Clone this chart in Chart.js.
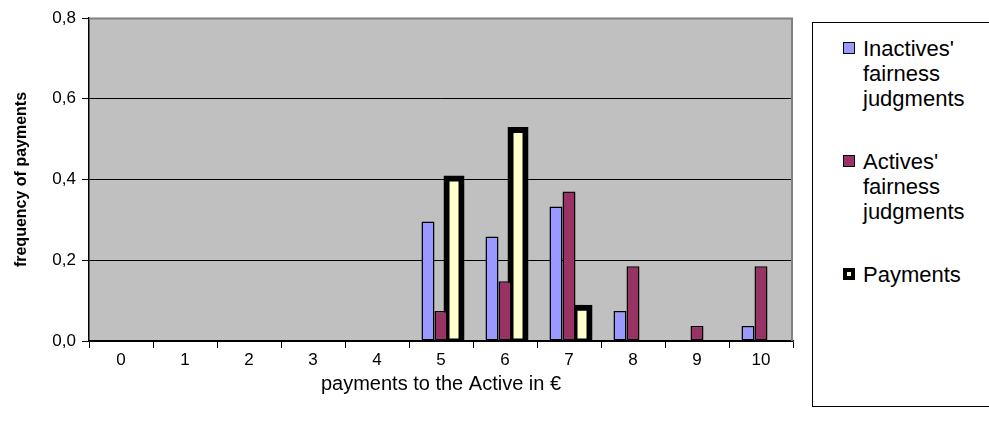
<!DOCTYPE html>
<html>
<head>
<meta charset="utf-8">
<script src="https://cdn.jsdelivr.net/npm/chart.js@4/dist/chart.umd.min.js"></script>
<style>
  html, body { margin: 0; padding: 0; background: #fff; }
  #wrap { position: relative; width: 989px; height: 421px; overflow: hidden; }
  #legend {
    position: absolute; left: 812px; top: 22px; width: 200px; height: 385px;
    border: 1px solid #000; box-sizing: border-box; background: #fff;
    font-family: 'Liberation Sans', Arial, sans-serif; font-size: 22px; color: #000;
  }
  .item { position: absolute; left: 30px; line-height: 25px; }
  .sw { position: absolute; left: 0; top: 6px; width: 12px; height: 12px; box-sizing: border-box; }
  .txt { position: absolute; left: 20px; white-space: nowrap; }
</style>
</head>
<body>
<div id="wrap">
  <canvas id="c" width="989" height="421"></canvas>
  <div id="legend"></div>
</div>
<script>
// payment amounts (euros) shown on the x axis
const categories = ['0', '1', '2', '3', '4', '5', '6', '7', '8', '9', '10'];

// relative frequencies per amount
const inactivesJudgments = [0, 0, 0, 0, 0, 0.296, 0.259, 0.333, 0.074, 0, 0.037];
const activesJudgments   = [0, 0, 0, 0, 0, 0.074, 0.148, 0.370, 0.185, 0.037, 0.185];
const payments           = [0, 0, 0, 0, 0, 0.40, 0.52, 0.08, 0, 0, 0];

// series names, split into the lines used in the legend box
const seriesNames = [
  ["Inactives'", 'fairness', 'judgments'],
  ["Actives'", 'fairness', 'judgments'],
  ['Payments']
];

const yTicks = [0, 0.2, 0.4, 0.6, 0.8];

const FONT = "'Liberation Sans', Arial, sans-serif";

// grey plot background and the grey top/right frame
const plotFrame = {
  id: 'plotFrame',
  beforeDraw(chart) {
    const { ctx, chartArea: a } = chart;
    ctx.save();
    ctx.fillStyle = '#C0C0C0';
    ctx.fillRect(a.left, a.top, a.right - a.left, a.bottom - a.top);
    ctx.restore();
  },
  beforeDatasetsDraw(chart) {
    const { ctx, chartArea: a } = chart;
    ctx.save();
    ctx.strokeStyle = '#808080';
    ctx.lineWidth = 2;
    ctx.beginPath();
    ctx.moveTo(a.left, a.top + 0.5);
    ctx.lineTo(a.right - 1, a.top + 0.5);
    ctx.lineTo(a.right - 1, a.bottom);
    ctx.stroke();
    ctx.restore();
  }
};

// zero-height bars get no outline
const ifValue = (w) => (ctx) => (ctx.raw ? w : 0);

const chart = new Chart(document.getElementById('c'), {
  type: 'bar',
  data: {
    labels: categories,
    datasets: [
      {
        label: seriesNames[0].join(' '),
        data: inactivesJudgments,
        backgroundColor: '#9999FF',
        borderColor: '#000',
        borderWidth: ifValue(1.5),
        borderSkipped: false,
        inflateAmount: 0
      },
      {
        label: seriesNames[1].join(' '),
        data: activesJudgments,
        backgroundColor: '#993366',
        borderColor: '#000',
        borderWidth: ifValue(1.5),
        borderSkipped: false,
        inflateAmount: 0
      },
      {
        label: seriesNames[2].join(' '),
        data: payments,
        backgroundColor: '#FFFFCC',
        borderColor: '#000',
        borderWidth: ifValue(6),
        borderSkipped: false,
        inflateAmount: ifValue(4),
        clip: { left: 10, top: 10, right: 10, bottom: 0 }
      }
    ]
  },
  options: {
    responsive: false,
    animation: false,
    devicePixelRatio: 1,
    layout: { padding: { left: 0, top: 18, right: 196, bottom: 0 } },
    datasets: { bar: { categoryPercentage: 0.61, barPercentage: 1 } },
    plugins: {
      legend: { display: false },
      tooltip: { enabled: false }
    },
    scales: {
      x: {
        type: 'category',
        offset: true,
        grid: { offset: true, drawOnChartArea: false, drawTicks: true, tickLength: 7, tickColor: '#000', lineWidth: 1 },
        border: { display: true, color: '#000', width: 1.5 },
        ticks: { color: '#000', font: { family: FONT, size: 17 }, padding: 2, maxRotation: 0 },
        title: {
          display: true,
          text: 'payments to the Active in €',
          color: '#000',
          font: { family: FONT, size: 20 },
          padding: { top: 4, bottom: 25 }
        },
        afterFit(scale) { scale.height = 80; }
      },
      y: {
        min: 0,
        max: 0.8,
        afterBuildTicks(scale) { scale.ticks = yTicks.map(v => ({ value: v })); },
        grid: {
          color: (c) => (c.tick && c.tick.value === 0.8 ? 'rgba(0,0,0,0)' : '#000'),
          tickColor: '#000',
          lineWidth: 1,
          drawTicks: true,
          tickLength: 7
        },
        border: { display: true, color: '#000', width: 1.5 },
        ticks: {
          color: '#000',
          font: { family: FONT, size: 17 },
          padding: 6,
          callback: (v) => Number(v).toFixed(1).replace('.', ',')
        },
        title: {
          display: true,
          text: 'frequency of payments',
          color: '#000',
          font: { family: FONT, size: 16, weight: 'bold' },
          padding: { top: 12, bottom: 0 }
        },
        afterFit(scale) { scale.width = 89; }
      }
    }
  },
  plugins: [plotFrame]
});

// legend box built from the datasets
const legend = document.getElementById('legend');
const itemTops = [13, 126, 239];
chart.data.datasets.forEach((ds, i) => {
  const item = document.createElement('div');
  item.className = 'item';
  item.style.top = itemTops[i] + 'px';
  const sw = document.createElement('div');
  sw.className = 'sw';
  sw.style.background = ds.backgroundColor;
  sw.style.border = i === 2 ? '4px solid #000' : '1.5px solid #000';
  const txt = document.createElement('div');
  txt.className = 'txt';
  txt.innerHTML = seriesNames[i].join('<br>');
  item.appendChild(sw);
  item.appendChild(txt);
  legend.appendChild(item);
});
</script>
</body>
</html>
